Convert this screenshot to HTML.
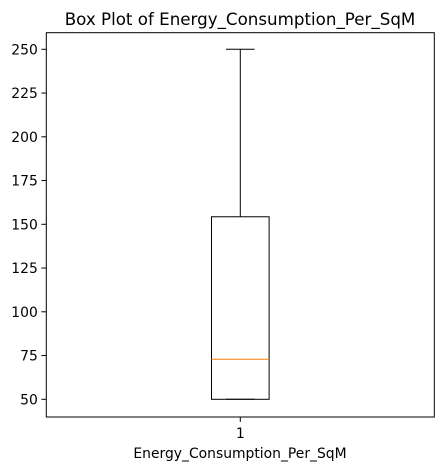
<!DOCTYPE html>
<html><head><meta charset="utf-8"><style>
body{margin:0;background:#fff;}
svg{display:block;font-family:"DejaVu Sans","Liberation Sans",sans-serif;}
</style></head><body>
<svg id="chart" width="443" height="470" viewBox="0 0 443 470">
<text x="240" y="25" font-size="16.7" text-anchor="middle" fill="#000">Box Plot of Energy_Consumption_Per_SqM</text>
<rect x="46.3" y="32.7" width="388" height="384.3" fill="none" stroke="#000" stroke-width="1"/>
<g id="yticks"></g>
<g id="xticks"></g>
<g id="marks"></g>
<text x="240" y="458" font-size="13.9" text-anchor="middle" fill="#000">Energy_Consumption_Per_SqM</text>
</svg>
<script>
const categories = ["1"];
const whiskerLow = [50];
const q1Values = [50];
const medianValues = [72.9];
const q3Values = [154.3];
const whiskerHigh = [250];
const yTickLabels = [50, 75, 100, 125, 150, 175, 200, 225, 250];

const NS = "http://www.w3.org/2000/svg";
const left = 46.3, right = 434.3;
function y(v){ return 399.3 - (v - 50) * 1.75; }
function x(i){ return left + (right - left) * (i + 1) / (categories.length + 1); }
function mk(tag, attrs, parent){
  const e = document.createElementNS(NS, tag);
  for (const k in attrs) e.setAttribute(k, attrs[k]);
  parent.appendChild(e);
  return e;
}
const yg = document.getElementById('yticks');
yTickLabels.forEach(t => {
  const ln = mk('line', {x1: left - 4.9, x2: left, y1: y(t), y2: y(t), stroke: '#000'}, yg);
  
  
  const tx = mk('text', {x: left - 8.5, y: y(t) + 5, 'font-size': 13.9, 'text-anchor': 'end', fill: '#000'}, yg);
  tx.textContent = t;
  
  
});
const xg = document.getElementById('xticks');
categories.forEach((c, i) => {
  const ln = mk('line', {x1: x(i), x2: x(i), y1: 417, y2: 421.9, stroke: '#000'}, xg);
  
  
  const tx = mk('text', {x: x(i), y: 438, 'font-size': 13.9, 'text-anchor': 'middle', fill: '#000'}, xg);
  tx.textContent = c;
  
  
});
const mg = document.getElementById('marks');
const hw = 28.8, cw = 14.3;
categories.forEach((c, i) => {
  const cx = x(i);
  const wl = mk('line', {x1: cx, x2: cx, y1: y(q3Values[i]), y2: y(whiskerHigh[i]), stroke: '#000'}, mg);
  
  
  const wl2 = mk('line', {x1: cx, x2: cx, y1: y(q1Values[i]), y2: y(whiskerLow[i]), stroke: '#000'}, mg);
  
  
  const capH = mk('line', {x1: cx - cw, x2: cx + cw, y1: y(whiskerHigh[i]), y2: y(whiskerHigh[i]), stroke: '#000'}, mg);
  
  
  const capL = mk('line', {x1: cx - cw, x2: cx + cw, y1: y(whiskerLow[i]), y2: y(whiskerLow[i]), stroke: '#000'}, mg);
  
  
  const box = mk('rect', {x: cx - hw, y: y(q3Values[i]), width: 2 * hw, height: y(q1Values[i]) - y(q3Values[i]), fill: 'none', stroke: '#000'}, mg);
  
  
  const med = mk('line', {x1: cx - hw, x2: cx + hw, y1: y(medianValues[i]), y2: y(medianValues[i]), stroke: '#ff7f0e'}, mg);
  
  
});
</script>
</body></html>
